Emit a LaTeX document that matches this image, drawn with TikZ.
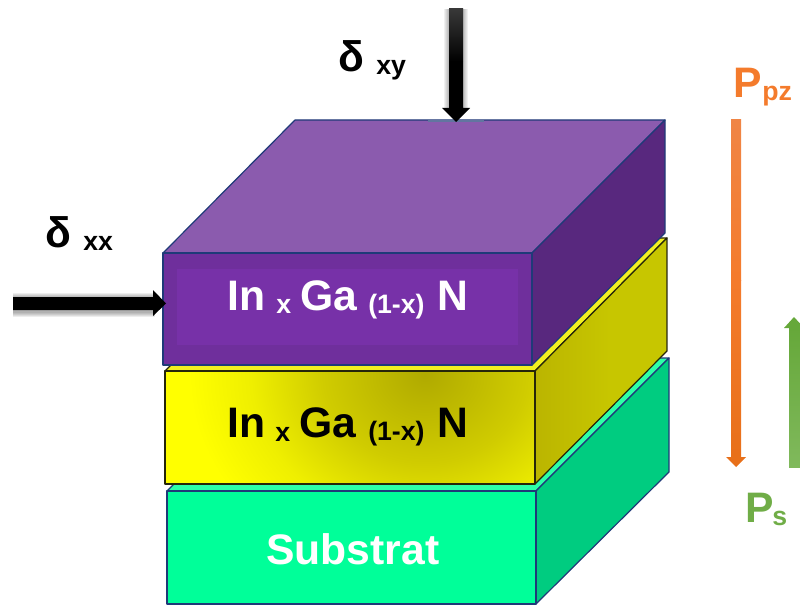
\documentclass[tikz,border=0pt]{standalone}
\usepackage{fontspec}
\setmainfont{Liberation Sans}
\definecolor{edgeblue}{HTML}{1F3A78}
\definecolor{edgedark}{HTML}{26260A}
\definecolor{pfront}{HTML}{6F2F9C}
\definecolor{pinner}{HTML}{7731A8}
\definecolor{ptop}{HTML}{8B5BAE}
\definecolor{pside}{HTML}{58287E}
\definecolor{ytop}{HTML}{F2F020}
\definecolor{yside}{HTML}{C7C600}
\definecolor{ysidedark}{HTML}{BBB500}
\definecolor{gfront}{HTML}{00FF99}
\definecolor{gside}{HTML}{00CC80}
\definecolor{gtop}{HTML}{2DFFA8}
\definecolor{ppzcol}{HTML}{F47B2C}
\definecolor{ppztop}{HTML}{F08545}
\definecolor{ppzbot}{HTML}{E8701A}
\definecolor{pscol}{HTML}{70AD47}
\definecolor{pstop}{HTML}{66A83A}
\definecolor{psbot}{HTML}{80B95C}
\pgfdeclareradialshading{yglow}{\pgfpoint{0bp}{0bp}}{%
  rgb(0bp)=(.69,.667,0);
  rgb(3.4bp)=(.75,.73,0);
  rgb(7.1bp)=(.816,.80,0);
  rgb(12.1bp)=(.937,.937,0);
  rgb(16.4bp)=(1,1,0);
  rgb(50bp)=(1,1,0)}
\tikzset{
  x=0.75pt,y=-0.75pt,
  bluebox/.style={draw=edgeblue,line width=0.9pt,line join=round},
  darkbox/.style={draw=edgedark,line width=0.9pt,line join=round},
  big/.style={inner sep=0pt,anchor=base west,font=\fontsize{32}{36}\selectfont\bfseries},
  small/.style={inner sep=0pt,anchor=base west,font=\fontsize{20}{24}\selectfont\bfseries},
}
\begin{document}
\begin{tikzpicture}
\useasboundingbox (0,0) rectangle (800,606);
% substrate
\path[bluebox,fill=gtop] (167,491) -- (300,358) -- (669,358) -- (536,491) -- cycle;
\path[bluebox,fill=gside] (536,491) -- (669,358) -- (669,472) -- (536,604) -- cycle;
\path[bluebox,fill=gfront] (167,491) rectangle (536,604);
% yellow layer
\path[darkbox,fill=ytop] (165,371) -- (298,238) -- (667,238) -- (535,371) -- cycle;
\begin{scope}
  \clip (535,371) -- (667,238) -- (667,351) -- (535,484) -- cycle;
  \shade[left color=ysidedark,right color=yside] (535,238) rectangle (610,484);
  \fill[yside] (610,238) rectangle (667,484);
\end{scope}
\path[darkbox] (535,371) -- (667,238) -- (667,351) -- (535,484) -- cycle;
\begin{scope}
  \clip (165,371) rectangle (535,484);
  \shade[shading=yglow] (425,375) ellipse[x radius=360,y radius=310];
\end{scope}
\path[darkbox] (165,371) rectangle (535,484);
% purple layer
\path[bluebox,fill=ptop] (163,253) -- (295,120) -- (665,120) -- (532,253) -- cycle;
\path[bluebox,fill=pside] (532,253) -- (665,120) -- (665,233) -- (532,365) -- cycle;
\path[bluebox,fill=pfront] (163,253) rectangle (532,365);
\fill[pinner] (177,269) rectangle (518,345);
% labels in the layers
\node[big,text=white] (in1) at (227,310.5) {In};
\node[small,text=white] (x1) at (276,313.5) {x};
\node[big,text=white] (ga1) at (300,310.5) {Ga};
\node[small,text=white] (sub1) at (368,313.5) {(1-x)};
\node[big,text=white] (n1) at (437,310.5) {N};
\node[big] (in2) at (227,437.5) {In};
\node[small] (x2) at (275,441) {x};
\node[big] (ga2) at (299,437.5) {Ga};
\node[small] (sub2) at (368,440) {(1-x)};
\node[big] (n2) at (437,437.5) {N};
\node[big,text=white] (subst) at (266,564) {Substrat};
% delta xy arrow
\foreach \w in {10,8,6,4,2}{
  \fill[black,opacity=.06] (449-\w/2,9) rectangle (463+\w/2,108);
}
\draw[edgeblue!70!white,line width=0.9pt] (428,121) -- (484,121);
\shade[top color=black!78,bottom color=black] (449,9) rectangle (463,62);
\fill[black] (449,62) -- (463,62) -- (463,108) -- (470,108) -- (456,122) -- (442,108) -- (449,108) -- cycle;
% delta xx arrow
\foreach \w in {10,8,6,4,2}{
  \fill[black,opacity=.07] (13,298-\w/2) rectangle (155,312+\w/2);
}
\fill[black] (13,297) -- (153,297) -- (153,290) -- (166,303.5) -- (153,316) -- (153,310) -- (13,310) -- cycle;
% polarisation arrows
\shade[top color=ppztop,bottom color=ppzcol] (731,120) rectangle (741,280);
\shade[top color=ppzcol,bottom color=ppzbot] (731,280) rectangle (741,457);
\fill[ppzbot] (726,457) -- (746,457) -- (736,467) -- cycle;
\shade[top color=pstop,bottom color=psbot] (789,328) rectangle (800,467);
\fill[pstop] (784,328) -- (794,317) -- (800,323.5) -- (800,328) -- cycle;
% outer labels
\node[big] (dxx) at (45,247.5) {δ};
\node[small] (xx) at (83,251) {xx};
\node[big] (dxy) at (338,72) {δ};
\node[small] (xy) at (376,75) {xy};
\node[big,text=ppzcol] (pp) at (733,98) {P};
\node[small,text=ppzcol] (pz) at (762,101) {pz};
\node[big,text=pscol] (ps) at (745,522) {P};
\node[small,text=pscol] (ss) at (772,525) {s};
\end{tikzpicture}
\end{document}
